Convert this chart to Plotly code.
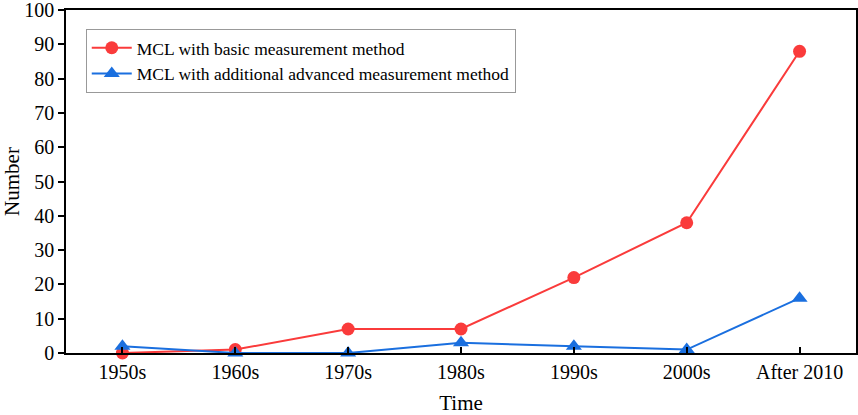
import plotly.graph_objects as go

periods = ["1950s", "1960s", "1970s", "1980s", "1990s", "2000s", "After 2010"]
basic_counts = [0, 1, 7, 7, 22, 38, 88]
advanced_counts = [2, 0, 0, 3, 2, 1, 16]

red = "#FA3B3B"
blue = "#1A6FDF"
font = "Liberation Serif, Times New Roman, serif"

fig = go.Figure()
fig.add_trace(go.Scatter(
    x=periods, y=basic_counts, mode="lines+markers",
    name="MCL with basic measurement method",
    line=dict(color=red, width=2),
    marker=dict(symbol="circle", size=13, color=red),
    cliponaxis=False,
))
fig.add_trace(go.Scatter(
    x=periods, y=advanced_counts, mode="lines+markers",
    name="MCL with additional advanced measurement method",
    line=dict(color=blue, width=2),
    marker=dict(symbol="triangle-up", size=14, color=blue),
    cliponaxis=False,
))

fig.update_layout(
    width=858, height=415,
    margin=dict(l=66, r=2, t=10, b=62, autoexpand=False),
    paper_bgcolor="white", plot_bgcolor="white",
    font=dict(family=font, size=20, color="black"),
    showlegend=True,
    legend=dict(
        x=0.025, y=0.945, xanchor="left", yanchor="top",
        bgcolor="white", bordercolor="#999999", borderwidth=1,
        font=dict(family=font, size=17.5),
        tracegroupgap=0, itemwidth=40,
    ),
)
fig.update_xaxes(
    range=[-0.5, 6.5], showgrid=False, zeroline=False, automargin=False,
    showline=True, linecolor="black", linewidth=1.5, mirror=True,
    ticks="inside", ticklen=6, tickwidth=1.5, tickcolor="black",
    ticklabeloverflow="allow",
    title=dict(text="Time", font=dict(size=21)),
)
fig.update_yaxes(
    range=[0, 100.05], tick0=0, dtick=10, showgrid=False, zeroline=False, automargin=False,
    showline=True, linecolor="black", linewidth=1.5, mirror=True,
    ticks="outside", ticklen=6, tickwidth=1.5, tickcolor="black",
    ticklabeloverflow="allow",
    title=dict(text="Number", font=dict(size=21)),
)

# page default body margin would shift the figure by 8px
fig.write_html("out.html", config={"displayModeBar": False},
               post_script="document.body.style.margin='0';")
